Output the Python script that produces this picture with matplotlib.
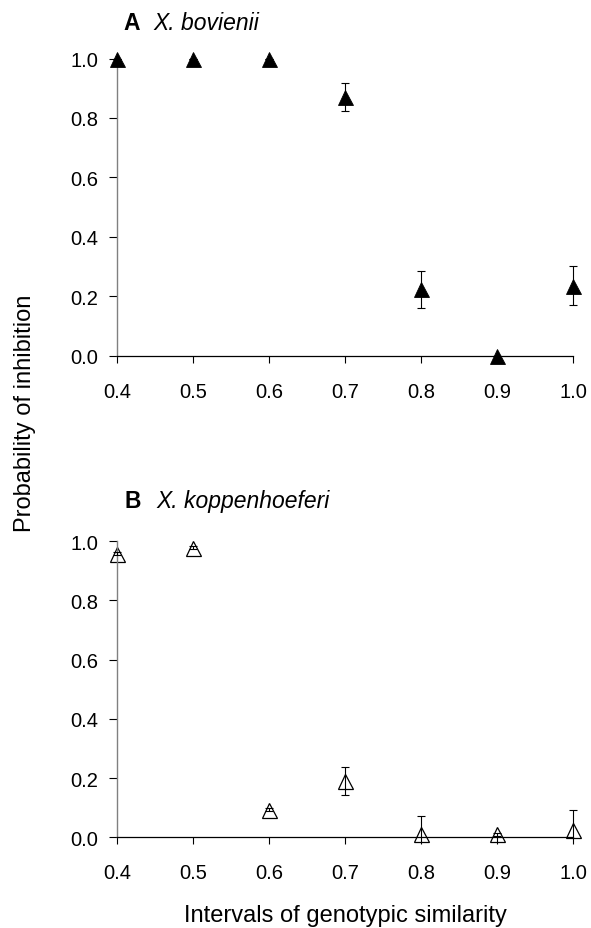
import matplotlib
matplotlib.use("Agg")
import matplotlib.pyplot as plt
from matplotlib.transforms import Bbox, TransformedBbox

# intervals of genotypic similarity
similarity = [0.4, 0.5, 0.6, 0.7, 0.8, 0.9, 1.0]
x_ticks = [0.4, 0.5, 0.6, 0.7, 0.8, 0.9, 1.0]
y_ticks = [0.0, 0.2, 0.4, 0.6, 0.8, 1.0]

# A: X. bovienii
bov_prob = [1.0, 1.0, 1.0, 0.87, 0.223, 0.0, 0.235]
bov_err = [0.0, 0.0, 0.0, 0.048, 0.063, 0.0, 0.066]

# B: X. koppenhoeferi
kop_prob = [0.957, 0.978, 0.093, 0.191, 0.01, 0.011, 0.025]
kop_err = [0.005, 0.005, 0.005, 0.048, 0.063, 0.005, 0.068]

plt.rcParams['font.family'] = ['Liberation Sans', 'DejaVu Sans']

W, H = 591, 929
fig = plt.figure(figsize=(W / 100, H / 100), dpi=100)


def px_axes(left, right, top, bottom):
    return fig.add_axes([left / W, 1 - bottom / H, (right - left) / W, (bottom - top) / H])


def style_axes(ax):
    ax.set_xlim(0.4, 1.0)
    ax.set_ylim(0.0, 1.0)
    ax.set_xticks(x_ticks)
    ax.set_yticks(y_ticks)
    ax.set_xticklabels([f'{v:.1f}' for v in x_ticks])
    ax.set_yticklabels([f'{v:.1f}' for v in y_ticks])
    ax.spines['top'].set_visible(False)
    ax.spines['right'].set_visible(False)
    ax.spines['left'].set_color('#808080')
    ax.spines['left'].set_linewidth(1.0)
    ax.spines['bottom'].set_color('black')
    ax.spines['bottom'].set_linewidth(0.9)
    ax.tick_params(axis='x', direction='out', length=4.8, width=0.8,
                   pad=14, labelsize=14.5)
    ax.tick_params(axis='y', direction='out', length=5.8, width=0.8,
                   pad=7.5, labelsize=14.5)


def draw_errors(ax, y, err, z):
    _, caps, bars = ax.errorbar(similarity, y, yerr=err, fmt='none', ecolor='black',
                                elinewidth=0.8, capsize=2.8, capthick=0.8, zorder=z)
    # clip only below the x axis, not at the left/right ends
    box = TransformedBbox(Bbox([[0.3, 0.0], [1.1, 1.2]]), ax.transData)
    for a in list(caps) + list(bars):
        a.set_clip_box(box)


# top panel
ax1 = px_axes(117, 573, 59.5, 356.5)
style_axes(ax1)
draw_errors(ax1, bov_prob, bov_err, 2)
ax1.plot(similarity, bov_prob, linestyle='none', marker='^', markersize=10.8,
         color='black', markeredgewidth=0.6, clip_on=False, zorder=3)

# bottom panel
ax2 = px_axes(117, 573, 542.2, 838.3)
style_axes(ax2)
draw_errors(ax2, kop_prob, kop_err, 3)
ax2.plot(similarity, kop_prob, linestyle='none', marker='^', markersize=10.8,
         markerfacecolor='none', markeredgecolor='black', markeredgewidth=0.9,
         clip_on=False, zorder=2)

# panel titles
fig.text(123 / W, 1 - 30 / H, 'A', fontsize=16.5, fontweight='bold', va='baseline')
fig.text(153 / W, 1 - 30 / H, 'X. bovienii', fontsize=16.5, style='italic', va='baseline')
fig.text(125 / W, 1 - 508.3 / H, 'B', fontsize=16.5, fontweight='bold', va='baseline')
fig.text(156 / W, 1 - 508.3 / H, 'X. koppenhoeferi', fontsize=16.5, style='italic', va='baseline')

# axis labels
fig.text(25 / W, 1 - 413 / H, 'Probability of inhibition', fontsize=17,
         rotation=90, ha='center', va='center')
fig.text(345 / W, 1 - 921.7 / H, 'Intervals of genotypic similarity', fontsize=17,
         ha='center', va='baseline')

fig.savefig('out.png', dpi=100)
